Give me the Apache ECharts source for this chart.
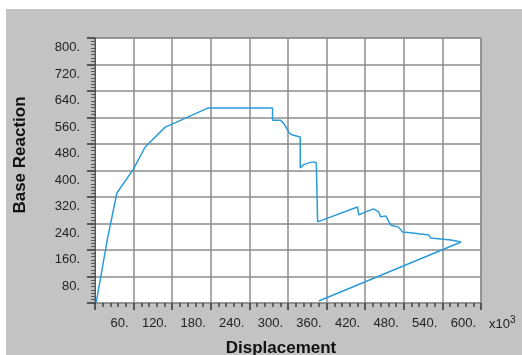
<!DOCTYPE html>
<html><head><meta charset="utf-8">
<script src="https://cdn.jsdelivr.net/npm/echarts@6/dist/echarts.min.js"></script>
<style>html,body{margin:0;padding:0;background:#fff}#c{width:522px;height:355px}</style>
</head><body><div id="c"></div>
<script>
const dispX = [2,19,34,59,78,109,120,176,276,276,279,282,285,288,291,293,296,299,302,305,307,309,319,319,324,327,332,335,340,344,346,346,408,410,421,433,441,444,452,457,460,472,478,494,519,522,553,569,348];
const reactY = [3,190,332,402,471,531,540,589,589,552,546,552,546,552,549,543,534,528,513,516,507,501,501,408,417,411,423,417,426,423,426,245,290,266,275,284,275,260,263,245,235,229,214,211,205,196,190,184,6];
const xTicks = [60,120,180,240,300,360,420,480,540,600];
const yTicks = [80,160,240,320,400,480,560,640,720,800];
const xTitle = 'Displacement';
const yTitle = 'Base Reaction';

const pts = dispX.map((x,i)=>[x,reactY[i]]);
const chart = echarts.init(document.getElementById('c'));
const font = '"Liberation Sans", Arial, sans-serif';
chart.setOption({
  animation:false,
  backgroundColor:'#ffffff',
  graphic:[
    {type:'rect', z:-10, shape:{x:6,y:9,width:516,height:346}, style:{fill:'#c3c3c3'}},
    {type:'text', left:489, top:315, style:{text:'{a|x10}{b|3}', rich:{a:{fontSize:13,fontFamily:font,fill:'#222'}, b:{fontSize:10,fontFamily:font,fill:'#222',verticalAlign:'top',padding:[0,0,8,0]}}}},
    {type:'text', x:281, y:348, style:{text:xTitle, fontSize:17, fontWeight:'bold', fontFamily:font, fill:'#111', align:'center', verticalAlign:'middle'}},
    {type:'text', x:20, y:155, rotation:Math.PI/2, style:{text:yTitle, fontSize:17, fontWeight:'bold', fontFamily:font, fill:'#111', align:'center', verticalAlign:'middle'}}
  ],
  grid:{left:95,right:41,top:38,bottom:52,show:true,backgroundColor:'#ffffff',borderColor:'#707070',borderWidth:1},
  xAxis:{
    type:'value',min:0,max:600,interval:60,
    axisLine:{show:false},
    axisTick:{show:true,length:7,lineStyle:{color:'#333',width:1.5}},
    minorTick:{show:true,splitNumber:5,length:4,lineStyle:{color:'#444',width:1.5}},
    splitLine:{show:true,lineStyle:{color:'#8c8c8c',width:1.5}},
    axisLabel:{
      margin:14,fontFamily:font,fontSize:13,color:'#222',align:'right',padding:[0,5,0,0],
      formatter:v=>xTicks.includes(v)?v+'.':''
    }
  },
  yAxis:{
    type:'value',min:0,max:800,interval:80,
    axisLine:{show:true,lineStyle:{color:'#555',width:1}},
    axisTick:{show:true,length:8,lineStyle:{color:'#333',width:1.5}},
    minorTick:{show:true,splitNumber:8,length:4,lineStyle:{color:'#555',width:1}},
    splitLine:{show:true,lineStyle:{color:'#8c8c8c',width:1.5}},
    axisLabel:{
      margin:15,fontFamily:font,fontSize:13,color:'#222',verticalAlign:'top',padding:[3,0,0,0],
      formatter:v=>yTicks.includes(v)?v+'.':''
    }
  },
  series:[{
    type:'line',data:pts,showSymbol:false,symbol:'none',
    lineStyle:{color:'#2b9bd9',width:1.5}
  }]
});
</script></body></html>
